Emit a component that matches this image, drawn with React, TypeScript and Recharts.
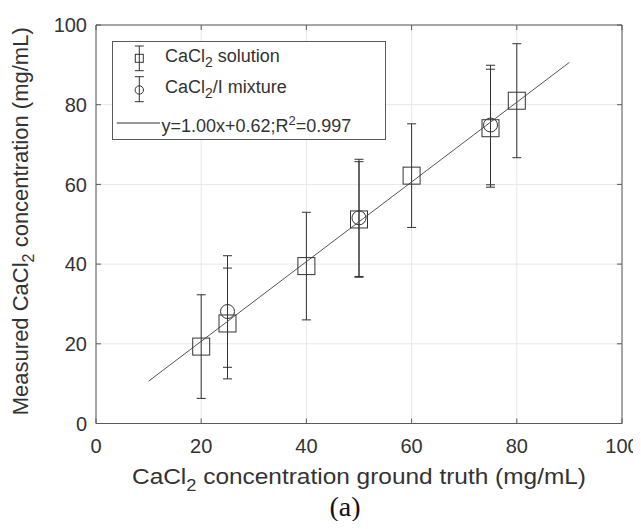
import React from "react";
import { CartesianGrid, ComposedChart, ErrorBar, Legend, Scatter, XAxis, YAxis } from "recharts";

const groundTruth = [20, 25, 40, 50, 60, 75, 80];
const solutionMeasured = [19.3, 25.1, 39.5, 51.2, 62.2, 74.1, 81.0];
const solutionError = [13.0, 13.9, 13.5, 14.5, 13.0, 14.8, 14.3];

const mixtureTruth = [25, 50, 75];
const mixtureMeasured = [28.1, 51.6, 74.9];
const mixtureError = [14.0, 14.7, 15.0];

// end points of the fitted line y=1.00x+0.62
const fitX = [10, 90];
const fitY = [10.62, 90.62];

const axisTicks = [0, 20, 40, 60, 80, 100];

const solutionData = groundTruth.map((x, i) => ({ x, y: solutionMeasured[i], err: solutionError[i] }));
const mixtureData = mixtureTruth.map((x, i) => ({ x, y: mixtureMeasured[i], err: mixtureError[i] }));
const fitData = fitX.map((x, i) => ({ x, y: fitY[i] }));

const FONT = '"Liberation Sans", Arial, sans-serif';
const INK = "#333333";
const AXIS = "#5a5a5a";

const Square = (props: any) => {
    const { cx, cy } = props;
    return <rect x={cx - 8.5} y={cy - 8.5} width={17} height={17} fill="none" stroke={INK} strokeWidth={1} />;
};

const Ring = (props: any) => {
    const { cx, cy } = props;
    return <circle cx={cx} cy={cy} r={7} fill="none" stroke={INK} strokeWidth={1} />;
};

const NoMark = () => <g />;

const YTitle = (props: any) => {
    const { viewBox } = props;
    const bx = viewBox.x + 20;
    const cy = viewBox.y + viewBox.height / 2 - 3;
    return (
        <text
            transform={`translate(${bx},${cy}) rotate(-90)`}
            textAnchor="middle"
            fontFamily={FONT}
            fontSize={22}
            fill={INK}
        >
            Measured CaCl
            <tspan dy={6} fontSize={16}>2</tspan>
            <tspan dy={-6}> concentration (mg/mL)</tspan>
        </text>
    );
};

const XTitle = (props: any) => {
    const { viewBox } = props;
    const cx = viewBox.x + viewBox.width / 2;
    return (
        <g>
            <text
                x={cx}
                y={viewBox.y + 60}
                textAnchor="middle"
                fontFamily={FONT}
                fontSize={21.5}
                fill={INK}
                textLength={454}
                lengthAdjust="spacingAndGlyphs"
            >
                CaCl
                <tspan dy={7} fontSize={16}>2</tspan>
                <tspan dy={-7}> concentration ground truth (mg/mL)</tspan>
            </text>
            <text x={cx - 14} y={viewBox.y + 92.5} textAnchor="middle" fontFamily='"Liberation Serif", serif' fontSize={28} fill="#111">
                (a)
            </text>
        </g>
    );
};

const LegendBox = () => (
    <svg width={274} height={99} style={{ display: "block", background: "#fff" }}>
        <rect x={0.5} y={0.5} width={273} height={98} fill="#fff" stroke={AXIS} />
        <g stroke={INK} fill="none">
            <line x1={27.3} x2={27.3} y1={5} y2={29.7} />
            <line x1={22.8} x2={31.8} y1={5} y2={5} />
            <line x1={22.8} x2={31.8} y1={29.7} y2={29.7} />
            <rect x={23.3} y={13.3} width={8} height={8} />
            <line x1={27.3} x2={27.3} y1={35.7} y2={60.7} />
            <line x1={22.8} x2={31.8} y1={35.7} y2={35.7} />
            <line x1={22.8} x2={31.8} y1={60.7} y2={60.7} />
            <circle cx={27.3} cy={49} r={4.2} />
            <line x1={4.7} x2={48} y1={82} y2={82} />
        </g>
        <g fontFamily={FONT} fontSize={18} fill={INK}>
            <text x={53} y={20.7}>
                CaCl<tspan dy={5} fontSize={14}>2</tspan>
                <tspan dy={-5}> solution</tspan>
            </text>
            <text x={53} y={52.3}>
                CaCl<tspan dy={5} fontSize={14}>2</tspan>
                <tspan dy={-5}>/I mixture</tspan>
            </text>
            <text x={49.5} y={91.3}>
                y=1.00x+0.62;R<tspan dy={-7} fontSize={13}>2</tspan>
                <tspan dy={7}>=0.997</tspan>
            </text>
        </g>
    </svg>
);

const tickStyle = { fill: INK, fontSize: 20, fontFamily: FONT };

export default function App() {
    return (
        <ComposedChart width={633} height={513} margin={{ top: 16, right: 18, bottom: 0, left: 0 }}>
            <CartesianGrid stroke="#e8e8e8" />
            <XAxis
                type="number"
                dataKey="x"
                domain={[0, 100]}
                ticks={axisTicks}
                height={97.5}
                tickSize={-5}
                tickMargin={20}
                stroke={AXIS}
                tick={tickStyle}
                label={<XTitle />}
            />
            <XAxis
                xAxisId="top"
                orientation="top"
                type="number"
                dataKey="x"
                domain={[0, 100]}
                ticks={axisTicks}
                height={1}
                tickSize={-5}
                stroke={AXIS}
                tick={NoMark}
            />
            <YAxis
                type="number"
                dataKey="y"
                domain={[0, 100]}
                ticks={axisTicks}
                width={88}
                tickSize={-5}
                tickMargin={14}
                stroke={AXIS}
                tick={tickStyle}
                label={<YTitle />}
            />
            <YAxis
                yAxisId="right"
                orientation="right"
                type="number"
                dataKey="y"
                domain={[0, 100]}
                ticks={axisTicks}
                width={1}
                tickSize={-5}
                stroke={AXIS}
                tick={NoMark}
            />
            <Scatter
                data={fitData}
                xAxisId="top"
                yAxisId="right"
                line={{ stroke: "#555", strokeWidth: 1 }}
                shape={NoMark}
                isAnimationActive={false}
                legendType="none"
            />
            <Scatter data={solutionData} shape={Square} isAnimationActive={false}>
                <ErrorBar dataKey="err" direction="y" width={4.5} stroke={INK} strokeWidth={1} isAnimationActive={false} />
            </Scatter>
            <Scatter data={mixtureData} shape={Ring} isAnimationActive={false}>
                <ErrorBar dataKey="err" direction="y" width={4.5} stroke={INK} strokeWidth={1} isAnimationActive={false} />
            </Scatter>
            <Legend
                layout="vertical"
                align="center"
                verticalAlign="middle"
                content={<LegendBox />}
                wrapperStyle={{ left: 104, top: 33, width: 274, height: 99 }}
            />
        </ComposedChart>
    );
}
